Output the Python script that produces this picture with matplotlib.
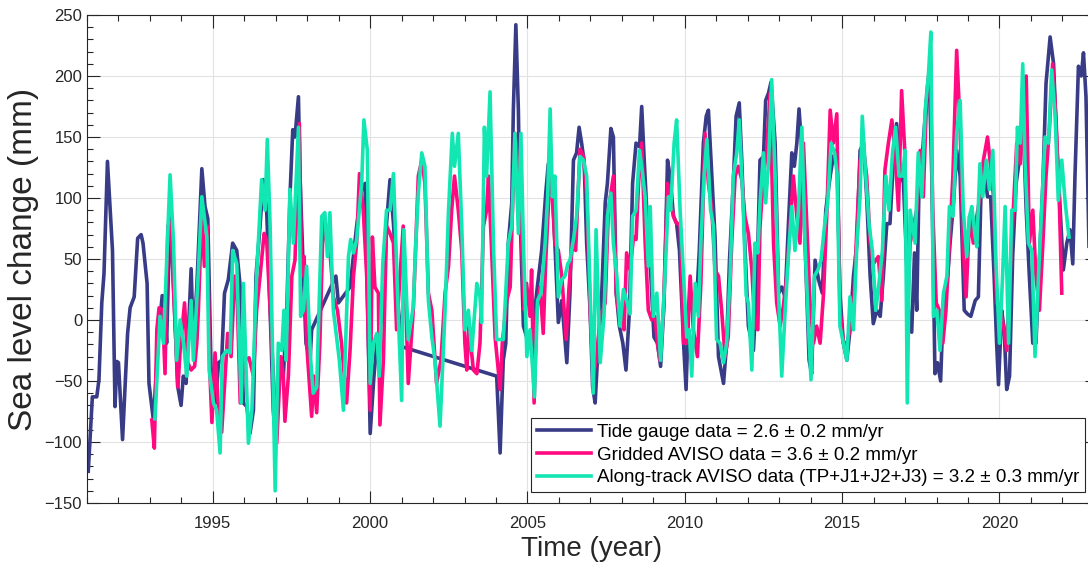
import numpy as np
import matplotlib
matplotlib.use("Agg")
import matplotlib.pyplot as plt
from matplotlib.ticker import MultipleLocator

# tide gauge (time in decimal years, sea level in mm)
tg_t = [1991.04, 1991.17, 1991.31, 1991.38, 1991.47, 1991.54, 1991.65, 1991.73, 1991.81, 1991.89,
        1991.95, 1992.00, 1992.13, 1992.29, 1992.37, 1992.50, 1992.61, 1992.72, 1992.78, 1992.91,
        1992.97, 1993.11, 1993.27, 1993.39, 1993.46, 1993.53, 1993.64, 1993.78, 1993.88, 1993.99,
        1994.06, 1994.15, 1994.31, 1994.38, 1994.49, 1994.65, 1994.75, 1994.84, 1994.94, 1995.09,
        1995.18, 1995.28, 1995.37, 1995.49, 1995.63, 1995.76, 1995.87, 1995.97, 1996.08, 1996.18,
        1996.29, 1996.37, 1996.50, 1996.60, 1996.71, 1996.82, 1996.92, 1997.00, 1997.13, 1997.24,
        1997.35, 1997.45, 1997.54, 1997.61, 1997.72, 1997.77, 1997.88, 1997.96, 1998.09, 1998.14,
        1998.91, 1998.99, 1999.36, 1999.57, 1999.73, 1999.84, 2000.00, 2000.12, 2000.21, 2000.42,
        2000.52, 2000.63, 2000.74, 2000.90, 2001.02, 2004.02, 2004.13, 2004.23, 2004.31, 2004.39,
        2004.50, 2004.55, 2004.63, 2004.71, 2004.76, 2004.87, 2005.03, 2005.18, 2005.29, 2005.45,
        2005.58, 2005.66, 2005.77, 2005.87, 2005.98, 2006.09, 2006.25, 2006.35, 2006.46, 2006.56,
        2006.64, 2006.72, 2006.80, 2006.88, 2006.99, 2007.07, 2007.15, 2007.25, 2007.36, 2007.47,
        2007.54, 2007.65, 2007.73, 2007.82, 2007.92, 2008.03, 2008.13, 2008.24, 2008.34, 2008.45,
        2008.56, 2008.63, 2008.71, 2008.79, 2008.92, 2009.02, 2009.13, 2009.23, 2009.34, 2009.45,
        2009.53, 2009.64, 2009.74, 2009.83, 2009.96, 2010.04, 2010.12, 2010.25, 2010.36, 2010.46,
        2010.59, 2010.68, 2010.75, 2010.86, 2010.96, 2011.07, 2011.23, 2011.33, 2011.42, 2011.54,
        2011.63, 2011.73, 2011.81, 2011.91, 2012.02, 2012.18, 2012.29, 2012.39, 2012.50, 2012.57,
        2012.66, 2012.74, 2012.87, 2012.98, 2013.08, 2013.19, 2013.29, 2013.40, 2013.48, 2013.56,
        2013.63, 2013.72, 2013.82, 2013.95, 2014.03, 2014.14, 2014.25, 2014.37, 2014.48, 2014.62,
        2014.72, 2014.83, 2014.93, 2015.04, 2015.15, 2015.25, 2015.36, 2015.47, 2015.57, 2015.68,
        2015.78, 2015.89, 2015.99, 2016.10, 2016.21, 2016.31, 2016.42, 2016.52, 2016.63, 2016.73,
        2016.84, 2016.95, 2017.11, 2017.21, 2017.30, 2017.37, 2017.46, 2017.56, 2017.67, 2017.77,
        2017.85, 2017.95, 2018.03, 2018.13, 2018.22, 2018.33, 2018.43, 2018.54, 2018.64, 2018.75,
        2018.88, 2018.98, 2019.09, 2019.23, 2019.33, 2019.41, 2019.51, 2019.62, 2019.72, 2019.83,
        2019.91, 2019.97, 2020.07, 2020.15, 2020.23, 2020.32, 2020.42, 2020.53, 2020.63, 2020.74,
        2020.85, 2020.95, 2021.06, 2021.16, 2021.27, 2021.38, 2021.48, 2021.61, 2021.72, 2021.82,
        2021.93, 2022.03, 2022.14, 2022.24, 2022.33, 2022.40, 2022.51, 2022.60, 2022.67, 2022.75,
        2022.85]
tg_v = [-124, -63, -63, -49, 14, 38, 130, 93, 57, -71,
        -34, -35, -98, -11, 10, 19, 67, 70, 63, 30,
        -52, -82, -14, 20, 19, -19, 90, 10, -54, -70,
        -46, -52, 42, -19, 27, 124, 93, 83, -38, -68,
        -35, -33, 22, 33, 63, 57, 27, -68, -71, -93,
        -74, 36, 77, 115, 90, 8, -74, -100, -33, -46,
        8, 101, 156, 150, 183, 118, 36, -19, -33, -8,
        36, 14, 27, 77, 107, 112, -93, -46, -19, 8,
        79, 115, 79, 8, -22, -46, -109, -33, -19, 63,
        96, 172, 242, 172, 90, -5, -19, -5, 22, 57,
        104, 128, 118, 63, -2, 16, -35, 22, 131, 137,
        158, 145, 130, 63, 8, -55, -68, -19, 22, 96,
        112, 157, 150, 22, -5, -19, -41, 8, 112, 145,
        142, 175, 131, 90, 36, -14, -19, -38, 14, 131,
        118, 85, 79, 57, -19, -57, 8, 14, 8, 57,
        145, 167, 172, 118, 68, -30, -52, -19, 49, 112,
        167, 178, 131, 60, -5, -25, 30, 131, 134, 180,
        186, 195, 145, 22, 27, 19, 77, 137, 126, 145,
        173, 139, 63, -33, -44, 49, 33, 22, 90, 118,
        134, 139, 22, -19, -33, -8, 36, 63, 139, 145,
        101, 36, -3, 8, 3, 36, 79, 79, 131, 161,
        123, 112, 8, -10, 55, 8, 134, 139, 178, 200,
        118, -44, -35, -50, 16, 27, 63, 96, 139, 118,
        8, 5, 3, 16, 19, 101, 126, 101, 101, 36,
        -19, -53, 8, -8, -57, -46, 52, 112, 131, 172,
        90, 36, -19, -19, 49, 112, 194, 232, 210, 145,
        90, 41, 63, 74, 46, 118, 208, 200, 219, 183,
        55]

# gridded AVISO
ga_t = [1993.06, 1993.14, 1993.22, 1993.29, 1993.40, 1993.48, 1993.57, 1993.66, 1993.78, 1993.89,
        1993.96, 1994.10, 1994.20, 1994.31, 1994.42, 1994.49, 1994.54, 1994.65, 1994.73, 1994.82,
        1994.91, 1994.97, 1995.07, 1995.16, 1995.28, 1995.39, 1995.47, 1995.58, 1995.69, 1995.76,
        1995.87, 1996.00, 1996.15, 1996.29, 1996.39, 1996.50, 1996.63, 1996.71, 1996.82, 1996.92,
        1997.03, 1997.16, 1997.24, 1997.29, 1997.40, 1997.51, 1997.61, 1997.75, 1997.82, 1997.90,
        1997.98, 1998.14, 1998.21, 1998.30, 1998.40, 1998.51, 1998.62, 1998.72, 1998.83, 1998.96,
        1999.09, 1999.25, 1999.36, 1999.47, 1999.57, 1999.66, 1999.78, 1999.89, 2000.00, 2000.07,
        2000.15, 2000.26, 2000.31, 2000.42, 2000.52, 2000.63, 2000.74, 2000.84, 2001.05, 2001.14,
        2001.21, 2001.37, 2001.53, 2001.64, 2001.74, 2001.85, 2001.96, 2002.11, 2002.25, 2002.38,
        2002.49, 2002.59, 2002.68, 2002.80, 2002.91, 2003.01, 2003.07, 2003.14, 2003.28, 2003.39,
        2003.49, 2003.60, 2003.70, 2003.76, 2003.86, 2003.97, 2004.13, 2004.20, 2004.34, 2004.45,
        2004.53, 2004.60, 2004.71, 2004.79, 2004.90, 2004.97, 2005.08, 2005.13, 2005.21, 2005.29,
        2005.40, 2005.50, 2005.58, 2005.72, 2005.79, 2005.87, 2005.98, 2006.09, 2006.23, 2006.32,
        2006.43, 2006.53, 2006.67, 2006.78, 2006.88, 2006.99, 2007.09, 2007.20, 2007.31, 2007.47,
        2007.57, 2007.73, 2007.82, 2007.89, 2008.00, 2008.07, 2008.15, 2008.26, 2008.37, 2008.45,
        2008.53, 2008.63, 2008.74, 2008.84, 2008.95, 2009.05, 2009.13, 2009.21, 2009.32, 2009.45,
        2009.53, 2009.64, 2009.74, 2009.85, 2009.96, 2010.06, 2010.17, 2010.27, 2010.40, 2010.51,
        2010.64, 2010.75, 2010.86, 2010.96, 2011.07, 2011.17, 2011.28, 2011.38, 2011.49, 2011.60,
        2011.70, 2011.81, 2011.91, 2012.02, 2012.13, 2012.23, 2012.32, 2012.39, 2012.50, 2012.60,
        2012.71, 2012.82, 2012.92, 2013.03, 2013.13, 2013.24, 2013.35, 2013.45, 2013.56, 2013.66,
        2013.77, 2013.88, 2013.98, 2014.09, 2014.19, 2014.30, 2014.41, 2014.51, 2014.62, 2014.72,
        2014.83, 2014.93, 2015.04, 2015.15, 2015.25, 2015.36, 2015.47, 2015.57, 2015.68, 2015.78,
        2015.89, 2015.99, 2016.15, 2016.26, 2016.36, 2016.47, 2016.58, 2016.68, 2016.79, 2016.89,
        2016.99, 2017.08, 2017.16, 2017.27, 2017.37, 2017.48, 2017.58, 2017.69, 2017.80, 2017.88,
        2017.99, 2018.09, 2018.20, 2018.30, 2018.41, 2018.52, 2018.64, 2018.75, 2018.85, 2018.94,
        2019.05, 2019.17, 2019.28, 2019.38, 2019.49, 2019.62, 2019.72, 2019.81, 2019.91, 2020.02,
        2020.13, 2020.23, 2020.32, 2020.44, 2020.55, 2020.66, 2020.76, 2020.85, 2020.95, 2021.06,
        2021.16, 2021.27, 2021.38, 2021.48, 2021.59, 2021.69, 2021.80, 2021.91, 2021.98]
ga_v = [-82, -105, -8, 10, 8, -44, 77, 80, 8, -55,
        -25, 14, -35, -41, -38, -19, 8, 90, 44, 77,
        -46, -84, -27, -66, -92, -46, -11, -30, 36, 30,
        -68, -33, -31, -46, 8, 36, 71, 66, 8, -46,
        -101, -30, -46, -83, -46, 36, 49, 161, 36, 52,
        -19, -79, -46, -76, -19, 85, 63, 57, 19, 8,
        -19, -68, -25, 36, 63, 120, 90, 36, -74, 68,
        27, 22, -86, -33, 77, 71, 63, -8, 77, 8,
        -52, 8, 118, 131, 112, 22, 8, -52, -33, 22,
        44, 90, 118, 90, 57, -19, -41, -5, -41, -44,
        -19, 77, 90, 118, 57, -14, -57, -19, 16, 27,
        96, 153, 123, 77, 8, 30, 3, 41, -68, 8,
        27, -11, 49, 123, 101, 63, 57, 36, -16, 27,
        63, 57, 140, 134, 104, 8, -46, -30, 3, 14,
        90, 118, 22, 8, 8, -8, 55, 41, 68, 66,
        112, 145, 63, 8, 0, 3, -19, -33, 8, 112,
        101, 85, 79, 79, -19, -19, 36, -8, -30, 30,
        153, 112, 90, 41, 36, 8, -30, -14, 63, 118,
        126, 115, 85, 71, 41, -5, -8, 77, 118, 139,
        186, 63, 14, -5, 11, 36, 79, 118, 85, 63,
        145, 77, 14, -19, -5, -19, 22, 85, 172, 145,
        169, 8, -19, -19, -8, 8, 77, 131, 139, 118,
        63, 46, 52, 16, 123, 145, 164, 139, 90, 188,
        139, 10, 63, 77, 90, 139, 101, 186, 213, 90,
        14, 8, -19, 8, 63, 118, 221, 158, 57, 19,
        85, 63, 85, 101, 131, 150, 126, 101, 14, 8,
        -5, -25, 30, 90, 145, 128, 172, 200, 63, 90,
        36, 8, 63, 118, 158, 210, 164, 90, 22]

# along-track AVISO (TP+J1+J2+J3)
at_t = [1993.16, 1993.32, 1993.43, 1993.64, 1993.75, 1993.85, 1993.96, 1994.07, 1994.17, 1994.31,
        1994.38, 1994.52, 1994.65, 1994.81, 1994.88, 1995.02, 1995.12, 1995.23, 1995.30, 1995.44,
        1995.55, 1995.63, 1995.76, 1995.90, 1995.97, 1996.13, 1996.24, 1996.39, 1996.55, 1996.66,
        1996.73, 1996.82, 1996.98, 1997.08, 1997.19, 1997.26, 1997.33, 1997.45, 1997.56, 1997.72,
        1997.79, 1997.88, 1997.98, 1998.11, 1998.19, 1998.30, 1998.46, 1998.56, 1998.64, 1998.72,
        1998.83, 1999.02, 1999.15, 1999.31, 1999.38, 1999.47, 1999.57, 1999.73, 1999.80, 1999.91,
        2000.00, 2000.10, 2000.21, 2000.29, 2000.40, 2000.52, 2000.63, 2000.74, 2000.90, 2001.00,
        2001.07, 2001.21, 2001.37, 2001.45, 2001.53, 2001.64, 2001.74, 2001.85, 2001.96, 2002.06,
        2002.22, 2002.38, 2002.49, 2002.61, 2002.68, 2002.80, 2002.91, 2003.01, 2003.12, 2003.23,
        2003.39, 2003.49, 2003.54, 2003.63, 2003.70, 2003.81, 2003.92, 2004.02, 2004.13, 2004.23,
        2004.39, 2004.50, 2004.60, 2004.71, 2004.79, 2004.87, 2004.98, 2005.08, 2005.22, 2005.32,
        2005.43, 2005.56, 2005.64, 2005.72, 2005.79, 2005.87, 2005.98, 2006.09, 2006.19, 2006.28,
        2006.35, 2006.46, 2006.56, 2006.67, 2006.78, 2006.88, 2006.99, 2007.09, 2007.18, 2007.31,
        2007.43, 2007.54, 2007.65, 2007.73, 2007.84, 2007.94, 2008.05, 2008.15, 2008.26, 2008.34,
        2008.45, 2008.56, 2008.63, 2008.74, 2008.84, 2008.90, 2009.00, 2009.11, 2009.23, 2009.37,
        2009.48, 2009.55, 2009.66, 2009.74, 2009.85, 2009.96, 2010.06, 2010.14, 2010.22, 2010.33,
        2010.43, 2010.51, 2010.61, 2010.70, 2010.82, 2010.91, 2011.01, 2011.12, 2011.23, 2011.33,
        2011.44, 2011.54, 2011.65, 2011.73, 2011.86, 2011.95, 2012.02, 2012.13, 2012.23, 2012.32,
        2012.39, 2012.50, 2012.57, 2012.66, 2012.76, 2012.87, 2012.98, 2013.08, 2013.19, 2013.29,
        2013.40, 2013.50, 2013.61, 2013.72, 2013.82, 2013.93, 2014.01, 2014.12, 2014.23, 2014.33,
        2014.44, 2014.54, 2014.65, 2014.76, 2014.84, 2014.93, 2015.04, 2015.15, 2015.25, 2015.36,
        2015.47, 2015.57, 2015.64, 2015.75, 2015.86, 2015.96, 2016.07, 2016.17, 2016.28, 2016.39,
        2016.49, 2016.60, 2016.70, 2016.81, 2016.92, 2017.00, 2017.07, 2017.16, 2017.32, 2017.42,
        2017.53, 2017.64, 2017.74, 2017.82, 2017.90, 2018.01, 2018.11, 2018.22, 2018.33, 2018.41,
        2018.52, 2018.64, 2018.75, 2018.85, 2018.96, 2019.05, 2019.12, 2019.23, 2019.28, 2019.38,
        2019.47, 2019.58, 2019.68, 2019.79, 2019.89, 2020.00, 2020.10, 2020.18, 2020.29, 2020.39,
        2020.50, 2020.57, 2020.66, 2020.74, 2020.81, 2020.92, 2021.03, 2021.13, 2021.24, 2021.34,
        2021.45, 2021.56, 2021.66, 2021.77, 2021.87, 2021.98, 2022.09, 2022.21]
at_v = [-81, 3, -19, 119, 63, -33, 0, -19, -46, 16,
        -33, 30, 101, 68, -41, -68, -74, -109, -30, -25,
        -27, 57, 46, -68, 30, -101, -74, 36, 115, 90,
        148, 77, -140, -19, -25, 8, -33, 107, 63, 158,
        3, 8, 44, -33, -60, -55, 85, 88, 52, 88,
        8, -33, -74, 52, 66, 55, 66, 112, 164, 139,
        -52, -19, -11, -46, 46, 90, 90, 120, 0, -66,
        74, -16, 11, 63, 104, 137, 126, 16, -14, -33,
        -87, 8, 90, 153, 126, 153, 77, -8, 8, -25,
        30, 19, -2, 158, 118, 187, 60, -16, -16, -16,
        63, 77, 153, 71, 153, 63, -30, -8, -63, 16,
        22, 63, 101, 173, 101, 118, 19, 33, 36, 46,
        49, 66, 85, 134, 131, 118, 22, -60, 74, -35,
        3, 85, 104, 63, 36, -5, 25, 16, 5, 85,
        90, 139, 126, 101, 44, 93, 3, 22, -33, 36,
        101, 90, 145, 164, 90, 36, -14, -8, -46, 30,
        3, 63, 118, 148, 90, 77, -16, -19, -35, -19,
        36, 118, 137, 164, 90, 20, 14, -41, 63, 55,
        96, 137, 96, 128, 197, 118, 22, -46, 8, 52,
        93, 57, 90, 158, 63, -5, -49, 36, 41, 49,
        77, 96, 145, 137, 120, -5, -19, -33, 19, -8,
        63, 101, 167, 118, 77, 57, 8, 30, 57, 118,
        90, 137, 158, 118, 118, 139, -68, 90, 63, 137,
        101, 172, 200, 236, 3, 8, -25, 22, 36, 93,
        85, 153, 180, 90, 52, 85, 93, 68, 60, 128,
        101, 131, 107, 139, 46, -19, 36, 93, -19, 90,
        90, 158, 145, 210, 131, 63, 57, -30, 36, 90,
        150, 145, 205, 167, 98, 131, 96, 68]

labels = ['Tide gauge data = 2.6 \u00b1 0.2 mm/yr',
          'Gridded AVISO data = 3.6 \u00b1 0.2 mm/yr',
          'Along-track AVISO data (TP+J1+J2+J3) = 3.2 \u00b1 0.3 mm/yr']
colors = ['#383B86', '#FF0A80', '#12E6B2']

plt.rcParams['font.family'] = ['Liberation Sans', 'DejaVu Sans']

fig = plt.figure(figsize=(10.88, 5.73), dpi=100)
# axes run a bit past the right edge, as in the original crop
ax = fig.add_axes([87/1088, 70/573, 1010/1088, 488/573])

ax.plot(tg_t, tg_v, color=colors[0], lw=2.6, label=labels[0])
ax.plot(ga_t, ga_v, color=colors[1], lw=2.6, label=labels[1])
ax.plot(at_t, at_v, color=colors[2], lw=2.6, label=labels[2])

ax.set_xlim(1991, 2023.1)
ax.set_ylim(-150, 250)
ax.xaxis.set_major_locator(MultipleLocator(5))
ax.xaxis.set_minor_locator(MultipleLocator(1))
ax.yaxis.set_major_locator(MultipleLocator(50))
ax.yaxis.set_minor_locator(MultipleLocator(10))
ax.grid(True, which='major', color='#e2e2e2', lw=0.8)
ax.set_axisbelow(True)

ax.tick_params(which='both', direction='in', top=True, right=True,
               colors='#262626', labelsize=12)
ax.tick_params(which='major', length=9, width=0.8)
ax.tick_params(which='minor', length=4, width=0.8)
ax.tick_params(axis='x', pad=9)
for s in ax.spines.values():
    s.set_color('#262626')
    s.set_linewidth(0.8)

ax.set_xlabel('Time (year)', fontsize=20, color='#262626', labelpad=4)
ax.set_ylabel('Sea level change (mm)', fontsize=24, color='#262626', labelpad=4)

leg = ax.legend(loc='lower right', bbox_to_anchor=(998/1010, 0.0225), borderaxespad=0,
                fontsize=13.5, fancybox=False, framealpha=1, edgecolor='#262626',
                handlelength=2.9, handletextpad=0.3, labelspacing=0.3, borderpad=0.3)
leg.get_frame().set_linewidth(0.8)

fig.savefig('out.png', dpi=100)
